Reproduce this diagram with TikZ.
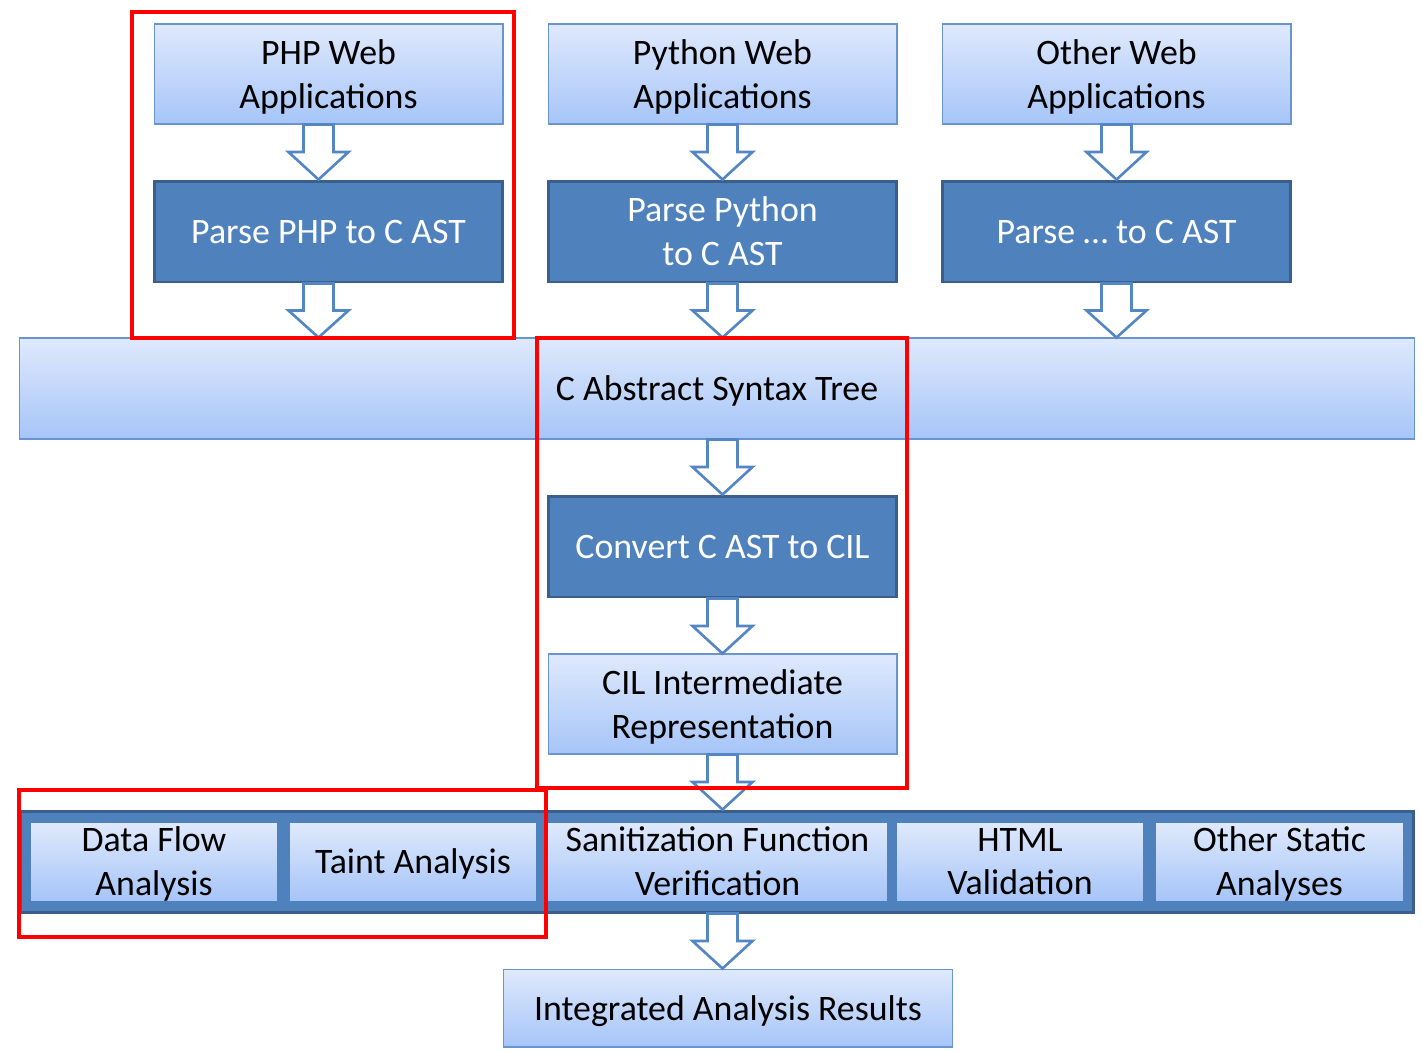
\documentclass[tikz,border=0pt]{standalone}
\usepackage{fontspec}
\setmainfont{Carlito}
\usetikzlibrary{calc, positioning}

\definecolor{darkfill}{RGB}{79,129,189}
\definecolor{darkedge}{RGB}{58,95,140}
\definecolor{lighttop}{RGB}{223,233,252}
\definecolor{lightbot}{RGB}{166,197,248}
\definecolor{lightedge}{RGB}{105,148,206}
\definecolor{arrowedge}{RGB}{84,134,196}

\tikzset{
  boxfont/.style={font=\fontsize{20.4pt}{25pt}\selectfont, align=center, inner sep=0pt, text depth=0pt},
  lightbox/.style={boxfont, draw=lightedge, line width=0.6pt, top color=lighttop, bottom color=lightbot, minimum width=6.98cm, minimum height=2cm},
  darkbox/.style={boxfont, draw=darkedge, line width=1.7pt, fill=darkfill, text=white, minimum width=6.98cm, minimum height=2.02cm},
  subbox/.style={boxfont, top color=lighttop, bottom color=lightbot, minimum width=4.92cm, minimum height=1.54cm},
  blockarr/.style={draw=arrowedge, fill=white, line width=1.5pt, line join=miter},
  redbox/.style={draw=red, line width=2pt}
}

% block arrow: x from #1, y from #1 down to #2
\newcommand{\blockarrow}[2]{%
  \draw[blockarr] let \p1=(#1), \p2=(#2), \n1={(\y1-\y2)/2} in
    (\x1-0.3cm,\y1) -- (\x1-0.3cm,\y1-\n1) -- (\x1-0.6cm,\y1-\n1) -- (\x1,\y2)
    -- (\x1+0.6cm,\y1-\n1) -- (\x1+0.3cm,\y1-\n1) -- (\x1+0.3cm,\y1) -- cycle;}

\begin{document}
\begin{tikzpicture}[x=0.02cm, y=-0.02cm]
\useasboundingbox[fill=white] (0,0) rectangle (1422,1052);

% source applications
\node[lightbox] (phpapp) at (328.5,74) {PHP Web\\Applications};
\node[lightbox] (pyapp) at (722.5,74) {Python Web\\Applications};
\node[lightbox] (otherapp) at (1116.5,74) {Other Web\\Applications};

% front ends
\node[darkbox] (phpparse) at (328.5,231.5) {Parse PHP to C AST};
\node[darkbox] (pyparse) at (722.5,231.5) {Parse Python\\to C AST};
\node[darkbox] (otherparse) at (1116.5,231.5) {Parse … to C AST};

\node[lightbox, minimum width=27.92cm, minimum height=2.02cm] (ast) at (717,388.5) {C Abstract Syntax Tree};

\node[darkbox] (convert) at (722.5,546.5) {Convert C AST to CIL};
\node[lightbox] (cil) at (722.5,704) {CIL Intermediate\\Representation};

% analyses
\node[darkbox, minimum width=27.88cm] (analyses) at (717,861.5) {};
\node[subbox] (dataflow) at (154,861.5) {Data Flow\\Analysis};
\node[subbox] (taint) at (413,861.5) {Taint Analysis};
\node[subbox, minimum width=6.78cm] (sanit) at (717.5,861.5) {Sanitization Function\\Verification};
\node[subbox] (html) at (1020,861.5) {HTML\\Validation};
\node[subbox, minimum width=4.94cm] (otherstatic) at (1279.5,861.5) {Other Static\\Analyses};

\node[lightbox, minimum width=9cm, minimum height=1.56cm] (results) at (728,1008) {Integrated Analysis Results};

% arrows
\coordinate (phpstem) at ($(phpapp.south)+(-10,0)$);
\coordinate (phpstemb) at ($(phpparse.south)+(-10,0)$);
\blockarrow{phpstem}{phpparse.north}
\blockarrow{pyapp.south}{pyparse.north}
\blockarrow{otherapp.south}{otherparse.north}
\blockarrow{phpstemb}{ast.north}
\blockarrow{pyparse.south}{ast.north}
\blockarrow{otherparse.south}{ast.north}
\blockarrow{convert.north |- ast.south}{convert.north}
\blockarrow{convert.south}{cil.north}
\blockarrow{cil.south}{analyses.north}
\blockarrow{cil.south |- analyses.south}{results.north}

% highlighted regions
\draw[redbox] (132,12) rectangle (514,338);
\draw[redbox] (537,338) rectangle (907,788);
\draw[redbox] (19,790) rectangle (546,937);

\end{tikzpicture}
\end{document}
